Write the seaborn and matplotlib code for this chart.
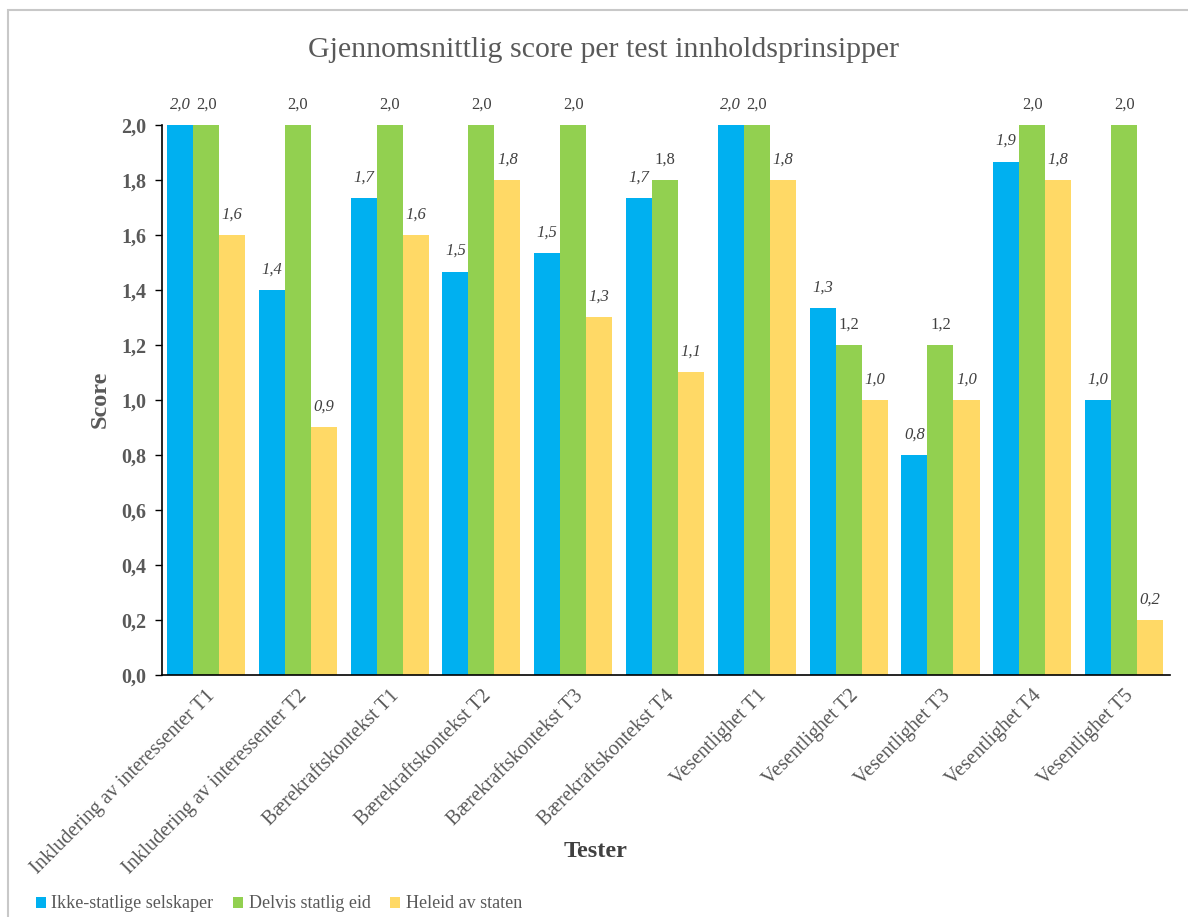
import numpy as np
import pandas as pd
import seaborn as sns
import matplotlib.pyplot as plt
from matplotlib.patches import Rectangle

# data lest av figuren
tester = ["Inkludering av interessenter T1", "Inkludering av interessenter T2",
          "Bærekraftskontekst T1", "Bærekraftskontekst T2", "Bærekraftskontekst T3",
          "Bærekraftskontekst T4", "Vesentlighet T1", "Vesentlighet T2",
          "Vesentlighet T3", "Vesentlighet T4", "Vesentlighet T5"]
grupper = ["Ikke-statlige selskaper", "Delvis statlig eid", "Heleid av staten"]
ikke_statlige = [2.0, 1.4, 1.733, 1.467, 1.533, 1.733, 2.0, 1.333, 0.8, 1.867, 1.0]
delvis_statlig = [2.0, 2.0, 2.0, 2.0, 2.0, 1.8, 2.0, 1.2, 1.2, 2.0, 2.0]
heleid = [1.6, 0.9, 1.6, 1.8, 1.3, 1.1, 1.8, 1.0, 1.0, 1.8, 0.2]
farger = ["#00B0F0", "#92D050", "#FFD966"]

df = pd.DataFrame({
    "Test": tester * 3,
    "Gruppe": np.repeat(grupper, len(tester)),
    "Score": ikke_statlige + delvis_statlig + heleid,
})

sns.set_theme(style="white")
plt.rcParams["font.family"] = ["Liberation Serif", "DejaVu Serif"]
grey = "#595959"

fig = plt.figure(figsize=(11.88, 9.17), dpi=100)
ax = fig.add_axes([162 / 1188, 1 - 675 / 917, 1008 / 1188, 550 / 917])

sns.barplot(data=df, x="Test", y="Score", hue="Gruppe", palette=farger,
            width=0.85, saturation=1, linewidth=0, ax=ax, legend=True)

# etiketter over stolpene
for i, cont in enumerate(ax.containers):
    labs = [f"{v:.1f}".replace(".", ",") for v in cont.datavalues]
    ax.bar_label(cont, labels=labs, padding=9, fontsize=12, color="#404040",
                 fontstyle="normal" if i == 1 else "italic", annotation_clip=False)

ax.set_ylim(0, 2.0)
ax.set_yticks(np.arange(0, 2.01, 0.2))
ax.set_yticklabels([f"{v:.1f}".replace(".", ",") for v in np.arange(0, 2.01, 0.2)],
                   fontsize=14.5, fontweight="bold", color=grey)
ax.set_xlim(-0.48, len(tester) - 0.5)
ax.set_xticks(range(len(tester)))
ax.set_xticklabels(tester, rotation=45, ha="right", rotation_mode="anchor",
                   fontsize=14.5, color=grey)
ax.tick_params(axis="y", length=5, width=1, color="black", direction="out", left=True, pad=6)
ax.tick_params(axis="x", length=0, pad=8)

for s in ["top", "right"]:
    ax.spines[s].set_visible(False)
for s in ["left", "bottom"]:
    ax.spines[s].set_color("black")
    ax.spines[s].set_linewidth(1.2)

ax.set_ylabel("Score", fontsize=17.5, fontweight="bold", color=grey)
ax.yaxis.set_label_coords(-0.051, 0.502)
ax.set_xlabel("Tester", fontsize=17.5, fontweight="bold", color="#404040")
ax.xaxis.set_label_coords(0.43, -0.302)

fig.text(0.508, 1 - 57 / 917, "Gjennomsnittlig score per test innholdsprinsipper",
         ha="center", va="baseline", fontsize=21.5, color=grey)

handles, labels = ax.get_legend_handles_labels()
ax.get_legend().remove()
fig.legend(handles, labels, loc="center left", bbox_to_anchor=(36 / 1188, 1 - 904 / 917),
           ncol=3, frameon=False, fontsize=13, handlelength=0.55, handleheight=0.55,
           handletextpad=0.3, columnspacing=1.1, borderpad=0, borderaxespad=0,
           labelcolor=grey)

# ramme rundt diagrammet
fig.patches.append(Rectangle((8 / 1188, -0.05), 1.2, 1 - 10 / 917 + 0.05,
                             transform=fig.transFigure, fill=False,
                             edgecolor="#c8c8c8", linewidth=1.5))

fig.savefig("out.png", dpi=100)
